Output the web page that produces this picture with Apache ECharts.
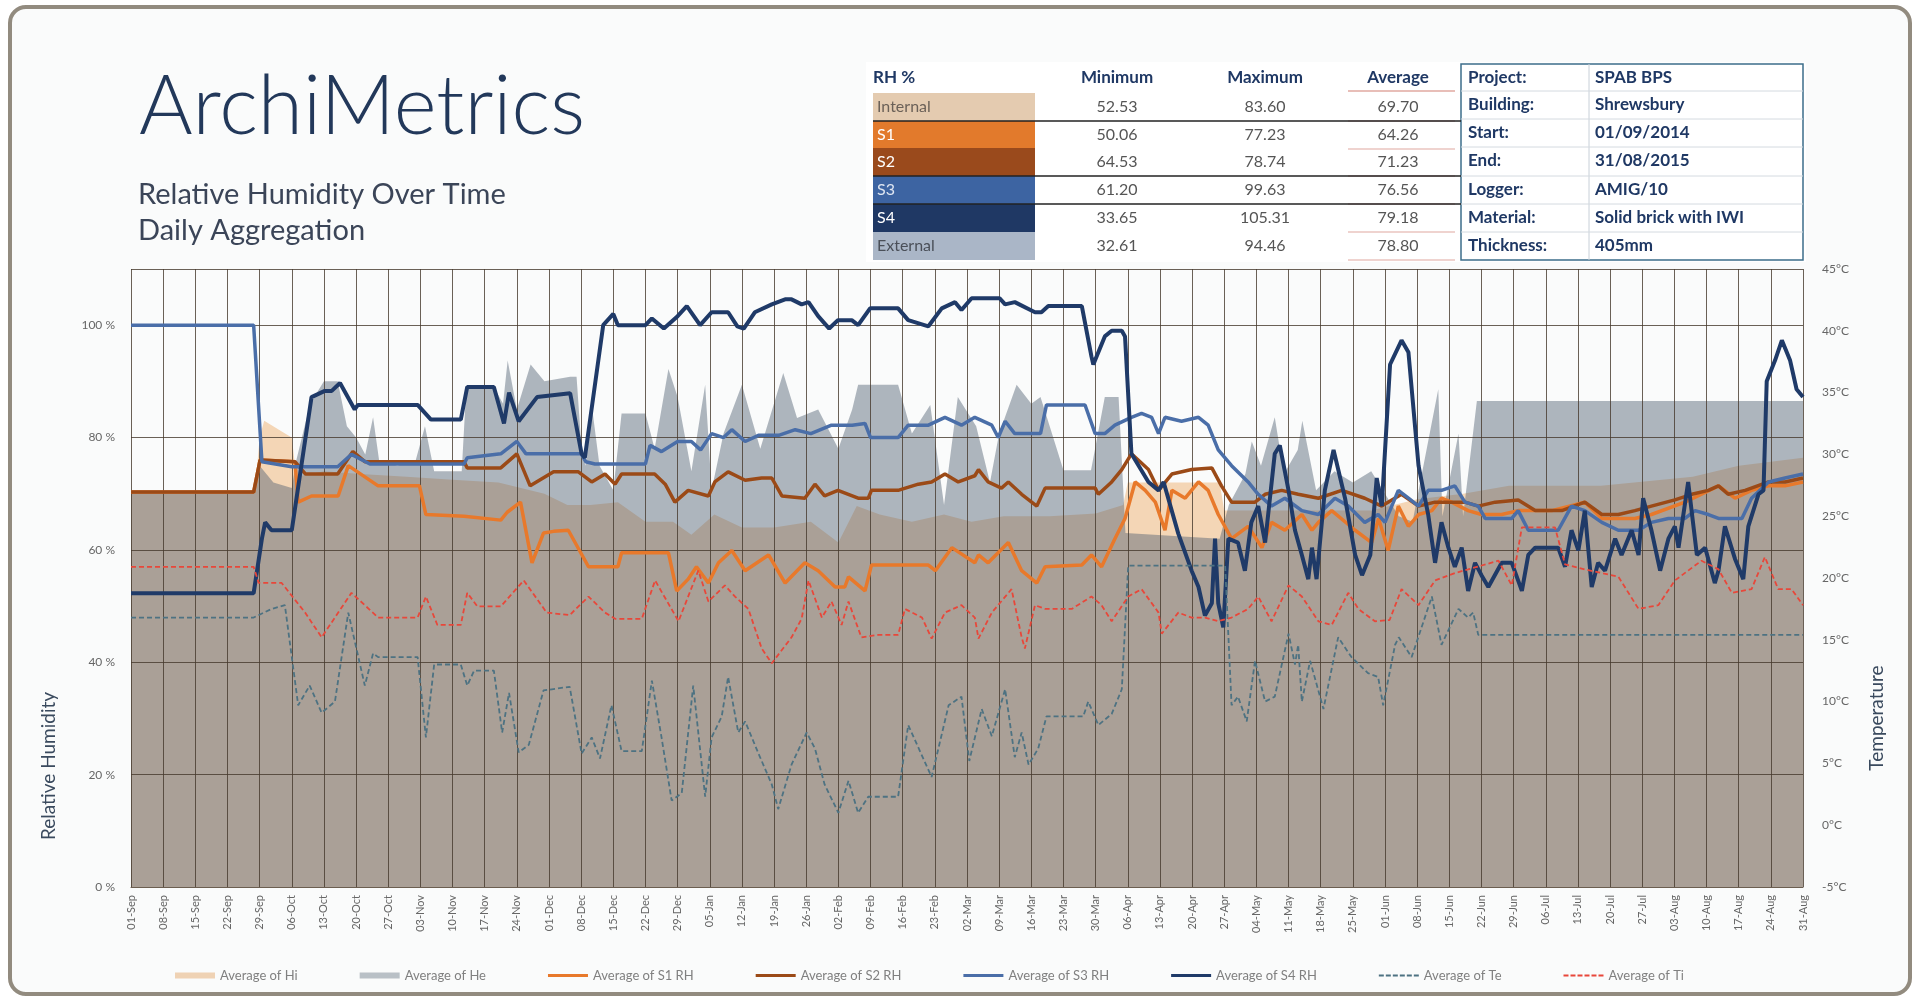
<!DOCTYPE html>
<html><head><meta charset="utf-8">
<script src="https://cdn.jsdelivr.net/npm/echarts@6/dist/echarts.min.js"></script>
<style>html,body{margin:0;padding:0;background:#fff;overflow:hidden}#c{width:1921px;height:1001px}</style>
</head><body><div id="c"></div>
<script>
// ---------- DATA ----------
const weekLabels = ['01-Sep','08-Sep','15-Sep','22-Sep','29-Sep','06-Oct','13-Oct','20-Oct','27-Oct','03-Nov','10-Nov','17-Nov','24-Nov','01-Dec','08-Dec','15-Dec','22-Dec','29-Dec','05-Jan','12-Jan','19-Jan','26-Jan','02-Feb','09-Feb','16-Feb','23-Feb','02-Mar','09-Mar','16-Mar','23-Mar','30-Mar','06-Apr','13-Apr','20-Apr','27-Apr','04-May','11-May','18-May','25-May','01-Jun','08-Jun','15-Jun','22-Jun','29-Jun','06-Jul','13-Jul','20-Jul','27-Jul','03-Aug','10-Aug','17-Aug','24-Aug','31-Aug'];
const rhTicks = [0,20,40,60,80,100];
const tempTicks = [-5,0,5,10,15,20,25,30,35,40,45];

// [day index from 01-Sep-2014, value]
const hiRH = [[0,70.3],[27,70.3],[28,80],[29,83],[33,81],[35,80],[36,73],[42,74],[50,73.5],[60,73],[70,72.5],[80,72],[90,70],[95,68],[100,68],[106,68.5],[112,65],[118,65],[122,62.7],[127,66.3],[133,64],[140,64],[148,65],[154,61.3],[158,67.8],[163,66.3],[170,65],[177,66.3],[183,65],[190,66],[200,66],[210,66.5],[216,68],[217,72],[237,72],[238,67],[250,67],[260,67],[270,67],[280,69],[290,70],[300,71.4],[320,71.4],[340,73],[350,75],[364,76.4]];
const heRH = [[0,70.3],[27,70.3],[28,75],[31,72],[35,71],[36,76],[39,86],[42,90],[45,90],[47,82],[49,80],[51,77],[52.7,83.6],[54,76],[58,75],[62,76],[64,82],[66,74],[72,74],[73,89],[79,89],[81,86],[82,93.7],[84,85],[87,93],[90,90],[95.6,90.8],[97,90.8],[98.1,77.8],[99,75],[100.3,85.8],[102,75],[105,70.6],[106.8,84.3],[112,84.3],[114,78],[117,92.2],[119,87.2],[122,74],[125,89.4],[126.4,70.6],[129,80.7],[133,89.4],[137,78],[142,91.5],[145,83.5],[149.6,85],[154,78],[157,85],[158.3,89.4],[167,89.4],[170,80.7],[174,85.8],[177,68],[180,87.2],[184,82],[187,72],[189,80.7],[192.8,89.4],[196,86],[198,87.2],[200,82],[203,74.2],[209,74.2],[212,87.2],[215,87.2],[216.5,63],[237,62],[239,68],[242.6,73.5],[244,79.3],[246,75],[249,83.6],[251,73.5],[254,77.8],[255,83],[258,70.6],[262,74],[266,72],[270,74],[273,70],[276,66],[279,65],[284.6,88.6],[285.5,66],[289,80.7],[290,66],[293,86.5],[364,86.5]];
const s1RH = [[0,70.3],[26.7,70.3],[28.1,76],[35.7,75.7],[36.4,68.5],[39.3,69.6],[45.1,69.6],[47.3,75],[53.8,71.4],[62.8,71.4],[64.2,66.3],[72.5,66],[80.5,65.3],[81.9,66.7],[84.8,68.5],[87.3,57.7],[89.8,63],[92,63.3],[95.2,63.5],[99.6,57],[106,57],[106.8,59.5],[117,59.5],[118.8,52.7],[121.3,54.8],[123.1,57],[125.7,54.1],[127.9,57.7],[130.8,59.9],[133.7,56.3],[138.8,59.1],[142.4,54.1],[146.7,57.7],[149.6,56.3],[153.3,53.4],[155.4,53.4],[156.2,55.2],[159.8,52.7],[161.2,57.3],[173.6,57.3],[175.1,56.3],[178.7,60.4],[183.7,57.7],[184.5,59.1],[186.6,57.7],[191,61.3],[193.9,56.3],[197.2,54.1],[199,57],[207,57.3],[209.1,59.1],[211.3,57],[214.2,62],[216.4,65.6],[218.6,72.1],[220.8,70.6],[223,68.5],[225.1,63.5],[226.6,70.6],[229.5,69.2],[232.4,72.1],[234.5,70.6],[236.7,66.3],[239.6,62],[243.2,64.2],[246.2,60.4],[248.3,64.9],[251.2,63.5],[254.9,66.3],[257.1,63.5],[258.5,64.9],[261.4,67],[266.5,63.5],[270.1,61.3],[271.6,65.6],[273.7,59.9],[275.9,67.8],[278.1,64.2],[280.3,66.3],[283.2,67],[285.3,69.2],[287.5,68.5],[291.1,67],[294,66.3],[298.4,66.3],[302,67],[309.3,67],[316.5,68.5],[320.2,65.6],[327.4,65.6],[331,66.3],[338.3,68.5],[341.9,69.9],[345.6,71.4],[349.2,69.2],[352.8,70.6],[356.5,71.4],[360.1,71.4],[364,72.1]];
const s2RH = [[0,70.3],[26.7,70.3],[28.1,76],[35.7,75.7],[38,73.5],[45,73.5],[48.3,77.5],[50.9,75.7],[72.5,75.7],[73.2,74.6],[80.5,74.6],[84,77.1],[86.9,71.4],[92,73.9],[97.4,73.9],[100.3,72.1],[103.2,73.5],[105.4,71.7],[106.8,73.5],[114,73.5],[116.3,71.7],[118.4,68.5],[121.3,70.6],[125.7,69.6],[127.1,72.1],[130,73.9],[133.7,72.4],[137.3,72.8],[139.5,72.8],[141.7,69.6],[146.7,69.2],[148.9,71.7],[151,69.6],[153.9,70.6],[158.3,69.2],[160.5,69.2],[161.2,70.6],[167,70.6],[171.4,71.7],[174.3,72.1],[177.2,73.5],[180.1,72.1],[183.7,73.2],[184.5,74.3],[186.6,72.1],[189.5,71],[191,72.1],[193.9,69.9],[197.2,67.8],[199,71],[209.9,71],[210.6,69.9],[213.5,72.1],[215.7,74.3],[217.8,77.1],[221.5,74.3],[223.7,70.6],[226.6,73.5],[230.9,74.3],[235.3,74.6],[237.4,71.4],[239.6,68.5],[244.7,68.5],[246.9,69.9],[250.5,70.6],[254.1,69.9],[258.5,69.2],[263.6,70.6],[268.6,69.2],[272.3,67.8],[276.6,69.9],[280.3,67.8],[283.9,68.5],[290.4,68.5],[293.3,67.8],[297,68.5],[302,68.9],[305.7,67],[311.5,67],[316.5,68.5],[320.2,66.3],[323.8,66.3],[327.4,67],[331,67.8],[336.1,68.9],[339.8,69.9],[343.4,70.6],[345.6,71.4],[347.7,69.9],[351.4,70.6],[356.5,72.1],[360.1,72.1],[364,72.8]];
const s3RH = [[0,100],[26.7,100],[28.5,75.7],[35,74.8],[45,74.8],[48,77],[52,75.3],[72.5,75.3],[73.2,76.4],[80.5,77.1],[84,79.3],[86,77.1],[98,77.1],[99,75.7],[101,75.3],[112,75.3],[113,78.6],[115.5,77.5],[119,79.3],[122,79.3],[124,77.8],[126.4,80.7],[129,80],[130.8,81.4],[133.7,79.3],[136.6,80.4],[141,80.4],[144.6,81.4],[148,80.7],[152.5,82.2],[157,82.2],[159.8,82.5],[161,80],[167,80],[169.2,82.2],[173.6,82.2],[177.2,83.6],[180.8,82.2],[183.7,83.6],[187.4,82.2],[188.8,80],[190.3,82.9],[192.4,80.7],[198,80.7],[199.3,85.8],[207.7,85.8],[209.9,80.7],[212,80.7],[214.2,82.2],[217.8,83.6],[220,84.3],[222.2,83.6],[223.7,80.7],[225.1,83.6],[228.7,82.9],[232.4,83.6],[234.5,82.2],[236.7,77.8],[239.6,75],[243.2,72.1],[245.4,69.9],[248.3,67.8],[251.2,69.2],[254.9,67],[258.5,66.3],[262.1,69.2],[265,67.8],[268.6,64.9],[271.5,66.3],[273,64.9],[275.9,70.6],[278.1,69.2],[280.3,67.8],[282.4,70.6],[285.3,70.6],[288.2,71.4],[290.4,68.5],[293.3,67.8],[294.8,65.6],[300.6,65.6],[302,67],[304.2,63.5],[310.7,63.5],[313.6,67.8],[316.5,67],[320.2,64.9],[323.8,63.5],[328.2,63.5],[331,64.9],[334.7,65.6],[338.3,65.6],[340.5,67],[343.4,66.3],[345.6,65.6],[350.7,65.6],[352.8,69.2],[356.5,72.1],[360.1,72.8],[364,73.5]];
const s4RH = [[0,52.3],[26.7,52.3],[28.5,62],[29.2,64.9],[30.6,63.5],[35,63.5],[39.3,87.2],[42.2,88.3],[43.7,88.3],[45.5,89.7],[48.7,85],[49.4,85.8],[62.4,85.8],[65.3,83.2],[71.8,83.2],[73.2,89],[79,89],[81.2,82.5],[82.3,88],[84.4,82.9],[88.4,87.2],[95.6,87.9],[98.1,77.1],[98.8,76.4],[102.8,100],[105,102],[106,100],[112,100],[113.4,101.2],[116,99.4],[119,101.6],[121,103.4],[123.9,100],[126.4,102.3],[130,102.3],[132,99.8],[133.4,99.4],[135.8,102.3],[139.5,103.7],[142.4,104.6],[143.8,104.6],[146,103.7],[147.5,104.1],[149.6,101.6],[152,99.4],[153.9,100.9],[156.9,100.9],[158.3,100],[160.9,103],[167,103],[169.2,100.9],[173.6,99.8],[176.5,103],[179.4,104.1],[180.8,102.7],[183,104.8],[189.1,104.8],[190.3,103.7],[192.4,104.1],[196.8,102.3],[198.2,102.3],[199.7,103.4],[207,103.4],[209.1,94.4],[209.5,93],[212,98],[213.5,99],[215.7,99],[216.4,98],[217.8,77.1],[221.5,72.1],[223.7,70.6],[224.8,72.1],[228,62.9],[230.9,56.3],[232.4,53.4],[233.8,48.3],[235.3,50.5],[236,62],[236.7,50.5],[237.8,46.2],[238.9,62],[241,61.3],[242.5,56.3],[243.9,64.9],[245.4,67.8],[246.9,61.3],[249,77.1],[250.1,78.6],[252,70.6],[253.4,63.5],[254.9,59.1],[256.3,54.8],[257.1,60.4],[258.1,54.8],[259.9,70.6],[261.8,77.8],[264.3,69.2],[266.5,59.1],[268,55.5],[269.8,59.1],[271.2,72.8],[272.3,67.8],[274.1,93],[276.6,97.3],[278.1,95.2],[280.3,75],[282.4,66.3],[283.9,57.7],[285.3,64.9],[286.8,60.4],[288.2,57],[289.7,60.4],[291.1,52.7],[292.6,57.7],[294,55.5],[295.5,53.4],[298.4,57.7],[300.6,57.7],[302.8,52.7],[304.2,59.1],[305.7,60.4],[310.7,60.4],[312.2,57],[313.6,63.5],[315.1,59.9],[316.5,67],[318,53.4],[319.4,57.7],[320.9,56.3],[323.1,62],[324.5,59.1],[326.7,63.5],[328.2,59.1],[329.2,69.2],[331,63.5],[332.9,56.3],[334.7,62],[336.1,64.2],[336.9,60.4],[339,72.1],[340.9,59.1],[342.7,60.4],[344.8,54.1],[345.6,56.3],[347,64.2],[349.2,58.4],[351,54.8],[352.1,64.2],[354.3,69.9],[355.4,70.6],[356.1,90],[357.9,93.7],[359.4,97.3],[361.2,93.7],[362.6,88.6],[364,87.2]];
const teC = [[0,16.8],[26.7,16.8],[30.6,17.5],[33.5,17.8],[36.4,9.7],[38.9,11.3],[41.5,9.1],[44.4,10],[47.3,17.2],[50.9,11.3],[52.7,13.9],[53.8,13.6],[62.4,13.6],[64.2,7.1],[66,13],[71.8,13],[73.2,11.3],[74.7,12.5],[79,12.5],[80.8,7.5],[82.3,10.7],[84.4,5.9],[86.6,6.5],[89.8,10.9],[95.5,11.2],[98.1,5.8],[100.3,7.1],[102.1,5.4],[104.6,9.7],[106.8,6],[111.2,6],[113.4,11.7],[115.5,7.1],[117.7,2],[119.9,2.6],[122.4,11.3],[125,2.3],[126.4,7.1],[128.6,8.8],[130,12],[132.2,7.5],[133.7,8.4],[136.6,5.8],[139.5,3.3],[140.9,1.3],[143.8,4.9],[147.1,7.5],[148.9,6.2],[151,3.3],[154,1],[156.2,3.6],[158.3,1],[160.5,2.3],[167,2.3],[169.2,8.1],[174.3,3.9],[178,9.7],[180.8,10.4],[182.5,5.2],[185.2,9.4],[187.4,7.2],[190.3,11],[192.4,5.5],[193.9,7.5],[195.4,4.9],[197.5,6.2],[199.3,8.8],[207.3,8.8],[208.4,10],[210.6,8.1],[213.5,9],[215.7,11],[217.1,21],[238.2,21],[239.6,9.7],[241,10.4],[242.9,8.4],[244.7,13.3],[246.9,10],[249,10.4],[252,15.5],[253.4,13],[254.1,14.6],[254.9,10],[256.7,13.3],[259.6,9.4],[262.8,15.2],[265.7,13.6],[269.3,12.3],[271.5,12],[272.6,9.7],[275.2,14.6],[276,15.2],[278.8,13.6],[283.2,18.5],[285.3,14.6],[289,17.5],[291.1,16.8],[292.2,17.2],[293.3,15.4],[364,15.4]];
const tiC = [[0,20.9],[26.7,20.9],[27.8,19.6],[32.8,19.6],[37.9,17.2],[41.5,15.2],[48,18.8],[53.8,16.8],[62.4,16.8],[64.2,18.5],[66.7,16.2],[71.8,16.2],[73.2,18.8],[75.4,17.7],[80.5,17.7],[85.5,19.8],[90.5,17.2],[95.5,17],[99.6,18.5],[103.2,17.2],[105.4,16.7],[111.2,16.7],[114.1,19.8],[119.2,16.5],[123.5,20.6],[125.7,18.1],[129.3,19.4],[131.5,18.5],[134.4,17.5],[137.3,14.3],[139.5,13.1],[143.8,15.2],[146,16.7],[147.5,19.8],[150.4,16.8],[152.5,18.1],[154.7,16.2],[156.2,18.1],[159,15.2],[162.7,15.4],[167,15.4],[168.5,17.5],[172.2,16.8],[174.3,15.1],[177.2,17.2],[180.8,17.8],[183.7,16.8],[184.5,15.1],[187.4,17.2],[191.7,19.1],[193.9,15.2],[194.6,14.3],[196.8,17.8],[199,17.5],[204.8,17.5],[209.1,18.5],[211.3,17.8],[213.5,16.5],[217.1,18.5],[220,19.1],[223.7,17.2],[224.4,15.5],[228,17.2],[230.9,16.8],[233.8,16.8],[236.7,16.5],[239.6,16.8],[243.2,17.5],[245.4,18.5],[248.3,16.5],[252,19.4],[254.9,18.5],[258.5,16.5],[261.4,16.2],[265,18.8],[267.2,17.5],[270.8,16.5],[274,16.6],[276.6,19.1],[280.3,17.8],[283.9,19.8],[288.2,20.4],[291.1,20.7],[297.7,21.4],[300.6,19.4],[302.8,24.1],[310,24.1],[312.2,21.1],[316.5,20.7],[323.8,20.1],[328.2,17.5],[332.5,17.8],[336.1,19.8],[341.9,21.4],[345.6,20.7],[348.5,18.8],[352.8,19.1],[355.7,21.7],[358.6,19.1],[361.5,19.1],[364,17.8]];

// summary table
const tableNames = ['Internal','S1','S2','S3','S4','External'];
const tableMin = ['52.53','50.06','64.53','61.20','33.65','32.61'];
const tableMax = ['83.60','77.23','78.74','99.63','105.31','94.46'];
const tableAvg = ['69.70','64.26','71.23','76.56','79.18','78.80'];
const tableHeaders = ['RH %','Minimum','Maximum','Average'];
const infoKeys = ['Project:','Building:','Start:','End:','Logger:','Material:','Thickness:'];
const infoVals = ['SPAB BPS','Shrewsbury','01/09/2014','31/08/2015','AMIG/10','Solid brick with IWI','405mm'];
const seriesNames = ['Average of Hi','Average of He','Average of S1 RH','Average of S2 RH','Average of S3 RH','Average of S4 RH','Average of Te','Average of Ti'];

// ---------- STYLE / LAYOUT ----------
const FONT = 'Lato, "Open Sans", sans-serif';
const cellColors = ['#e4cbb0','#e27a2c','#9a4a1c','#3d64a2','#1f3864','#aab6c7'];
const cellText = ['#6b6158','#fff','#fff','#dfe6f2','#fff','#4a4f58'];
const C = {hi:'#f4d6b6', he:'rgba(80,96,113,0.45)', s1:'#e8792b', s2:'#9b4a17', s3:'#4a6ea8', s4:'#1f3a68', te:'#4d7282', ti:'#e8473a'};
const SOLID_ICON = 'path://M0,0h40v3h-40z';
const DASH_ICON = 'path://M0,0h5v2h-5zM7,0h5v2h-5zM14,0h5v2h-5zM21,0h5v2h-5zM28,0h5v2h-5zM35,0h5v2h-5z';

const chart = echarts.init(document.getElementById('c'), null, {renderer:'canvas'});

const graphics = [];
graphics.push({type:'rect', z:0, silent:true, shape:{x:10,y:7,width:1900,height:987,r:16}, style:{fill:'#fafbfb', stroke:'#928b7f', lineWidth:4}});
graphics.push({type:'text', left:139, top:67, z:10, style:{text:'ArchiMetrics', font:'300 82px '+FONT, fill:'#22385a'}});
graphics.push({type:'text', left:138, top:180, z:10, style:{text:'Relative Humidity Over Time', font:'29px '+FONT, fill:'#3b4558'}});
graphics.push({type:'text', left:138, top:216, z:10, style:{text:'Daily Aggregation', font:'29px '+FONT, fill:'#3b4558'}});
graphics.push({type:'text', x:49, y:766, rotation:Math.PI/2, z:10, style:{text:'Relative Humidity', font:'19px '+FONT, fill:'#3a4a5e', align:'center', verticalAlign:'middle'}});
graphics.push({type:'text', x:1877, y:718, rotation:Math.PI/2, z:10, style:{text:'Temperature', font:'19px '+FONT, fill:'#3a4a5e', align:'center', verticalAlign:'middle'}});

const rowY = [107,135,162,190,218,246];
const rowH = 28;
graphics.push({type:'rect', z:5, silent:true, shape:{x:866,y:62,width:940,height:200}, style:{fill:'#ffffff'}});
const hdrX = [873,1117,1265,1398];
tableHeaders.forEach((h,i)=>{
  graphics.push({type:'text', x:hdrX[i], y:78, z:11, style:{text:h, font:'bold 17px '+FONT, fill:'#1f3864', align:i===0?'left':'center', verticalAlign:'middle'}});
});
graphics.push({type:'line', z:11, shape:{x1:1348,y1:91,x2:1455,y2:91}, style:{stroke:'#e0a8a0', lineWidth:1.5}});
tableNames.forEach((n,i)=>{
  const y = rowY[i];
  graphics.push({type:'rect', z:10, shape:{x:873,y:y-rowH/2,width:162,height:rowH}, style:{fill:cellColors[i]}});
  graphics.push({type:'text', x:877, y:y, z:11, style:{text:n, font:'16px '+FONT, fill:cellText[i], verticalAlign:'middle'}});
  graphics.push({type:'text', x:1117, y:y, z:11, style:{text:tableMin[i], font:'16px '+FONT, fill:'#555', align:'center', verticalAlign:'middle'}});
  graphics.push({type:'text', x:1265, y:y, z:11, style:{text:tableMax[i], font:'16px '+FONT, fill:'#555', align:'center', verticalAlign:'middle'}});
  graphics.push({type:'text', x:1398, y:y, z:11, style:{text:tableAvg[i], font:'16px '+FONT, fill:'#555', align:'center', verticalAlign:'middle'}});
  graphics.push({type:'line', z:11, shape:{x1:1348,y1:y+rowH/2,x2:1455,y2:y+rowH/2}, style:{stroke:'#e0a8a0', lineWidth:1.2}});
});
[121,176,204].forEach(y=>{
  graphics.push({type:'line', z:12, shape:{x1:873,y1:y,x2:1461,y2:y}, style:{stroke:'#222', lineWidth:1.5}});
});
graphics.push({type:'rect', z:10, shape:{x:1461,y:64,width:342,height:196}, style:{fill:'#fff', stroke:'#3c6e8a', lineWidth:1.5}});
graphics.push({type:'line', z:11, shape:{x1:1589,y1:64,x2:1589,y2:260}, style:{stroke:'#c8d0d8', lineWidth:1}});
const infoY = [78,105,133,161,190,218,246];
infoKeys.forEach((k,i)=>{
  graphics.push({type:'text', x:1468, y:infoY[i], z:11, style:{text:k, font:'bold 17px '+FONT, fill:'#1f3864', verticalAlign:'middle'}});
  graphics.push({type:'text', x:1595, y:infoY[i], z:11, style:{text:infoVals[i], font:'bold 17px '+FONT, fill:'#1f3864', verticalAlign:'middle'}});
  if (i>0) graphics.push({type:'line', z:11, shape:{x1:1461,y1:infoY[i]-14,x2:1803,y2:infoY[i]-14}, style:{stroke:'#d4dae0', lineWidth:1}});
});

function lineSeries(name, data, color, width, yIdx, dashed){
  return {name, type:'line', data, yAxisIndex:yIdx, symbol:'none', showSymbol:false, z:3,
    lineStyle:{color, width, type: dashed ? [5,3] : 'solid'}, itemStyle:{color}, emphasis:{disabled:true}};
}

const option = {
  backgroundColor:'transparent',
  animation:false,
  graphic: graphics,
  grid:{left:131, right:118, top:269, bottom:114, show:true, backgroundColor:'#ece8e0', borderColor:'#6b5e50', borderWidth:1, z:0},
  legend:{
    bottom:14, left:170, itemGap:62, itemWidth:40, itemHeight:6,
    textStyle:{fontFamily:FONT, fontSize:13, color:'#808080'},
    data:[
      {name:seriesNames[0], icon:'rect', itemStyle:{color:'#efd2b4'}},
      {name:seriesNames[1], icon:'rect', itemStyle:{color:'#b9c0c6'}},
      {name:seriesNames[2], icon:SOLID_ICON, itemStyle:{color:C.s1}},
      {name:seriesNames[3], icon:SOLID_ICON, itemStyle:{color:C.s2}},
      {name:seriesNames[4], icon:SOLID_ICON, itemStyle:{color:C.s3}},
      {name:seriesNames[5], icon:SOLID_ICON, itemStyle:{color:C.s4}},
      {name:seriesNames[6], icon:DASH_ICON, itemStyle:{color:C.te}},
      {name:seriesNames[7], icon:DASH_ICON, itemStyle:{color:C.ti}}
    ]
  },
  xAxis:{
    type:'value', min:0, max:364, interval:7, z:2,
    axisLine:{show:true, lineStyle:{color:'#6b5e50'}},
    axisTick:{show:false},
    splitLine:{show:true, lineStyle:{color:'rgba(70,58,45,0.8)', width:1}},
    axisLabel:{rotate:90, fontFamily:FONT, fontSize:11, color:'#666', margin:8,
      formatter:v=>weekLabels[Math.round(v/7)] || ''}
  },
  yAxis:[
    {type:'value', min:rhTicks[0], max:110, interval:20, z:2,
     axisLine:{show:false}, axisTick:{show:false},
     splitLine:{show:true, lineStyle:{color:'rgba(70,58,45,0.8)', width:1}},
     axisLabel:{showMaxLabel:false, fontFamily:FONT, fontSize:12, color:'#666', margin:16, formatter:v=>v+' %'}},
    {type:'value', min:tempTicks[0], max:tempTicks[tempTicks.length-1], interval:5, z:2,
     axisLine:{show:false}, axisTick:{show:false}, splitLine:{show:false},
     axisLabel:{fontFamily:FONT, fontSize:12, color:'#666', margin:19, formatter:v=>v+'°C'}}
  ],
  series:[
    {name:seriesNames[0], type:'line', data:hiRH, symbol:'none', z:1, yAxisIndex:0,
     lineStyle:{width:0}, itemStyle:{color:'#efd2b4'}, areaStyle:{color:C.hi, opacity:1}},
    {name:seriesNames[1], type:'line', data:heRH, symbol:'none', z:1, yAxisIndex:0,
     lineStyle:{width:0}, itemStyle:{color:'#b9c0c6'}, areaStyle:{color:C.he, opacity:1}},
    lineSeries(seriesNames[2], s1RH, C.s1, 3.5, 0, false),
    lineSeries(seriesNames[3], s2RH, C.s2, 3.5, 0, false),
    lineSeries(seriesNames[4], s3RH, C.s3, 3.5, 0, false),
    lineSeries(seriesNames[5], s4RH, C.s4, 4, 0, false),
    lineSeries(seriesNames[6], teC, C.te, 1.8, 1, true),
    lineSeries(seriesNames[7], tiC, C.ti, 1.8, 1, true)
  ]
};
chart.setOption(option);
</script>
</body></html>
